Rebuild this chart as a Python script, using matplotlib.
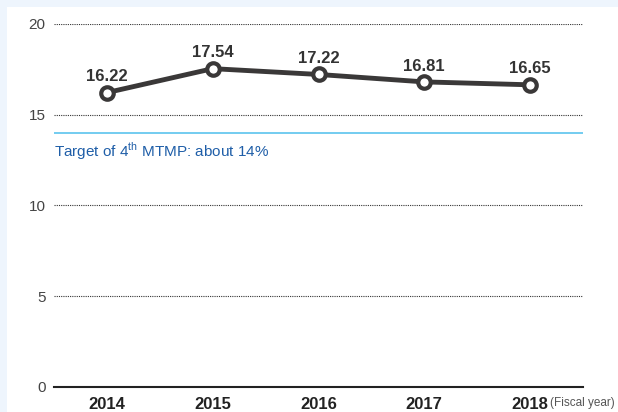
import matplotlib.pyplot as plt
from matplotlib.patches import Rectangle

# Data
years = [2014, 2015, 2016, 2017, 2018]
values = [16.22, 17.54, 17.22, 16.81, 16.65]
value_labels = ["16.22", "17.54", "17.22", "16.81", "16.65"]
target = 14
yticks = [0, 5, 10, 15, 20]

narrow = ['Liberation Sans Narrow', 'Liberation Sans', 'DejaVu Sans']
plt.rcParams['font.family'] = narrow
plt.rcParams['mathtext.fontset'] = 'custom'
plt.rcParams['mathtext.rm'] = 'Liberation Sans'

fig = plt.figure(figsize=(6.18, 4.12), dpi=100)
fig.patch.set_facecolor('#eef5fd')
fig.patches.append(Rectangle((7 / 618, 0), 1, (412 - 7) / 412,
                             transform=fig.transFigure, facecolor='white',
                             edgecolor='none', zorder=-5))

ax = fig.add_axes([54 / 618, 25 / 412, 529 / 618, 363 / 412])
ax.set_facecolor('none')
ax.set_xlim(2013.5, 2018.5)
ax.set_ylim(0, 20)

for y in yticks[1:]:
    ax.axhline(y, color='#333333', lw=0.8, ls=(0, (1, 1)), zorder=1)
ax.axhline(0, color='#222222', lw=1.5, zorder=2, clip_on=False)
ax.axhline(target, color='#5bc3ee', lw=1.2, zorder=1)

ax.plot(years, values, color='#3a3838', lw=3.5, marker='o', ms=9,
        mfc='white', mec='#3a3838', mew=3, zorder=4)

for x, v, s in zip(years, values, value_labels):
    ax.annotate(s, (x, v), xytext=(0, 6), textcoords='offset points',
                ha='center', va='bottom', fontsize=12, fontweight='bold',
                color='#333333')

ax.text(2013.5, 13.0, r"Target of 4$^{\rm th}$ MTMP: about 14%",
        family=['Liberation Sans', 'DejaVu Sans'], fontsize=11,
        color='#1f5ea8', ha='left', va='center')

for s in ax.spines.values():
    s.set_visible(False)
ax.set_yticks(yticks)
ax.set_yticklabels([str(t) for t in yticks], fontsize=11, color='#444444')
ax.tick_params(axis='y', length=0, pad=6)
ax.set_xticks(years)
ax.set_xticklabels([str(y) for y in years], fontsize=12, fontweight='bold',
                   color='#222222')
ax.tick_params(axis='x', length=0, pad=7)

ax.annotate("(Fiscal year)", (2018, 0), xytext=(14.5, -11.5),
            textcoords='offset points', ha='left', va='center', fontsize=8.5,
            color='#555555', annotation_clip=False)

fig.savefig('out.png', dpi=100, facecolor=fig.get_facecolor())
